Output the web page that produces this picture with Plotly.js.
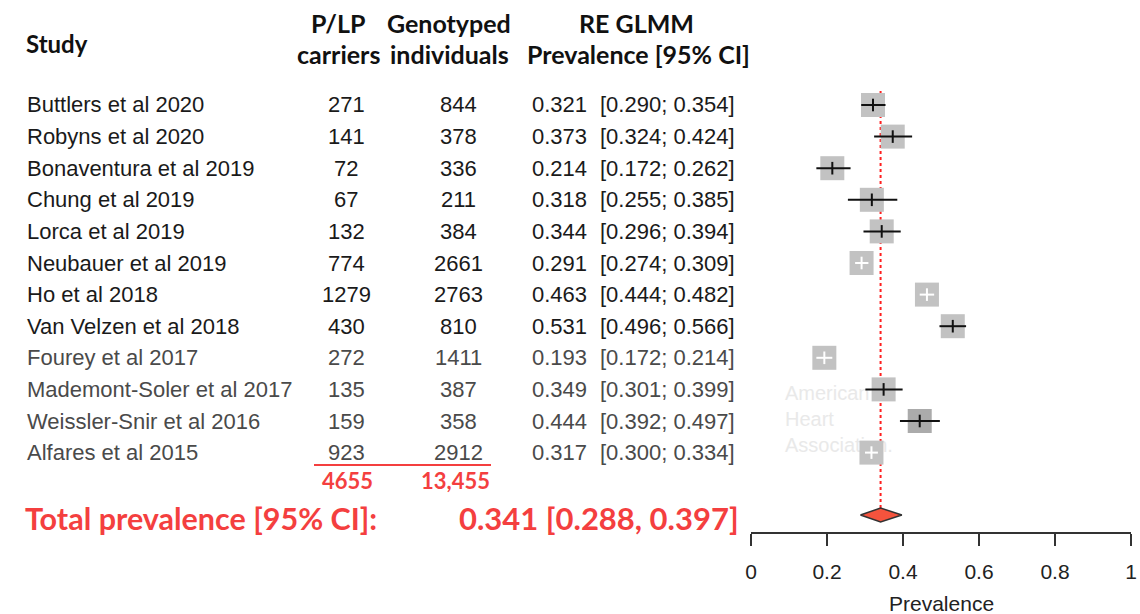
<!DOCTYPE html>
<html>
<head>
<meta charset="utf-8">
<script src="https://cdn.plot.ly/plotly-3.0.1.min.js"></script>
<style>html,body{margin:0;padding:0;background:#fff;}#chart{width:1140px;height:614px;}</style>
</head>
<body>
<div id="chart"></div>
<script>
// ---- data ----
const studies = ["Buttlers et al 2020","Robyns et al 2020","Bonaventura et al 2019","Chung et al 2019",
  "Lorca et al 2019","Neubauer et al 2019","Ho et al 2018","Van Velzen et al 2018","Fourey et al 2017",
  "Mademont-Soler et al 2017","Weissler-Snir et al 2016","Alfares et al 2015"];
const carriers = [271,141,72,67,132,774,1279,430,272,135,159,923];
const genotyped = [844,378,336,211,384,2661,2763,810,1411,387,358,2912];
const prevalence = [0.321,0.373,0.214,0.318,0.344,0.291,0.463,0.531,0.193,0.349,0.444,0.317];
const ciLow = [0.290,0.324,0.172,0.255,0.296,0.274,0.444,0.496,0.172,0.301,0.392,0.300];
const ciHigh = [0.354,0.424,0.262,0.385,0.394,0.309,0.482,0.566,0.214,0.399,0.497,0.334];
const totalCarriers = "4655";
const totalGenotyped = "13,455";
const pooledEst = 0.341, pooledLow = 0.288, pooledHigh = 0.397;
const xTickVals = [0,0.2,0.4,0.6,0.8,1];
const xTickText = ["0","0.2","0.4","0.6","0.8","1"];

// ---- layout constants ----
const W = 1140, H = 614;
const ROW0 = 105, STEP = 31.6;          // pixel centre of first row, row spacing
const AX_L = 751, AX_R = 1131, AX_Y = 532;
const BOX = 24;                          // square size in px
const boxHalfUnits = (BOX/2) / (AX_R-AX_L);
const RED = "#f43f3f";
const px2row = p => (p - ROW0) / STEP;
const py = p => 1 - p / H;
const pxX = p => p / W;
const idx = studies.map((_, i) => i);
const rowColor = i => i >= 8 ? "#4a4a4a" : "#1a1a1a";
const pooledRow = px2row(515);

const inside = idx.filter(i => (prevalence[i]-ciLow[i]) < boxHalfUnits && (ciHigh[i]-prevalence[i]) < boxHalfUnits);
const outside = idx.filter(i => !inside.includes(i));

function ciTrace(sel, color){
  return {
    type:"scatter", mode:"markers", hoverinfo:"skip", showlegend:false,
    x: sel.map(i=>prevalence[i]), y: sel.map(i=>i),
    marker:{symbol:"line-ns-open", size:9, color:color, line:{color:color, width:2}},
    error_x:{type:"data", symmetric:false, array: sel.map(i=>ciHigh[i]-prevalence[i]),
      arrayminus: sel.map(i=>prevalence[i]-ciLow[i]), color:color, thickness:2, width:0}
  };
}

const traces = [
  { type:"scatter", mode:"text", hoverinfo:"skip", showlegend:false,
    x:[(785-AX_L)/(AX_R-AX_L)], y:[px2row(421)], text:["American<br>Heart<br>Association."],
    textposition:"middle right", textfont:{family:"Liberation Sans, Arial, sans-serif", size:20, color:"#e9e9e9"} },
  { type:"scatter", mode:"lines", hoverinfo:"skip", showlegend:false,
    x:[pooledEst,pooledEst], y:[px2row(91), px2row(508)],
    line:{color:"#ff2020", width:2, dash:"3px,3px"} },
  { type:"scatter", mode:"markers", hoverinfo:"skip", showlegend:false,
    x: prevalence, y: idx,
    marker:{symbol:"square", size:BOX, color: idx.map(i => i===10 ? "#ababab" : "#c2c2c2"), line:{width:0}} },
  ciTrace(outside, "#111111"),
  ciTrace(inside, "#ffffff"),
  { type:"scatter", mode:"lines", fill:"toself", hoverinfo:"skip", showlegend:false,
    x:[pooledLow, pooledEst, pooledHigh, pooledEst, pooledLow],
    y:[pooledRow, pooledRow-0.22, pooledRow, pooledRow+0.22, pooledRow],
    fillcolor:"#f5533d", line:{color:"#333333", width:1.5} }
];

const F = "Liberation Sans, Arial, sans-serif";
const FC = "Lato, Carlito, Calibri, sans-serif";
const ann = [];
function A(o){ ann.push(Object.assign({showarrow:false, xref:"paper", yref:"paper", yanchor:"middle"}, o)); }

// headers
const HB = {family:FC, size:25, color:"#111"};
A({x:pxX(24), y:py(43), xanchor:"left", text:"<b>Study</b>", font:{family:FC, size:24, color:"#111"}});
A({x:pxX(338), y:py(23), xanchor:"center", text:"<b>P/LP</b>", font:HB});
A({x:pxX(338), y:py(54), xanchor:"center", text:"<b>carriers</b>", font:HB});
A({x:pxX(449), y:py(23), xanchor:"center", text:"<b>Genotyped</b>", font:HB});
A({x:pxX(449), y:py(54), xanchor:"center", text:"<b>individuals</b>", font:HB});
A({x:pxX(636), y:py(23), xanchor:"center", text:"<b>RE GLMM</b>", font:HB});
A({x:pxX(638), y:py(54), xanchor:"center", text:"<b>Prevalence [95% CI]</b>", font:HB});

// rows
idx.forEach(i => {
  const f = {family:F, size:22, color:rowColor(i)};
  const yy = 1 - (ROW0 + STEP*i) / H;
  A({x:pxX(25), y:yy, xanchor:"left", text:studies[i], font:f});
  A({x:pxX(346), y:yy, xanchor:"center", text:String(carriers[i]), font:f});
  A({x:pxX(458), y:yy, xanchor:"center", text:String(genotyped[i]), font:f});
  A({x:pxX(530), y:yy, xanchor:"left", text:prevalence[i].toFixed(3), font:f});
  A({x:pxX(598), y:yy, xanchor:"left", text:"[" + ciLow[i].toFixed(3) + "; " + ciHigh[i].toFixed(3) + "]", font:f});
});

// totals
A({x:pxX(347), y:py(480), xanchor:"center", text:"<b>"+totalCarriers+"</b>", font:{family:FC, size:22, color:RED}});
A({x:pxX(455), y:py(480), xanchor:"center", text:"<b>"+totalGenotyped+"</b>", font:{family:FC, size:22, color:RED}});
A({x:pxX(23), y:py(518), xanchor:"left", text:"<b>Total prevalence [95% CI]:</b>", font:{family:FC, size:30.5, color:RED}});
A({x:pxX(741), y:py(518), xanchor:"right",
   text:"<b>" + pooledEst.toFixed(3) + " [" + pooledLow.toFixed(3) + ", " + pooledHigh.toFixed(3) + "]</b>",
   font:{family:FC, size:31, color:RED}});
// x axis title
A({x:pxX((AX_L+AX_R)/2), y:py(603), xanchor:"center", text:"Prevalence", font:{family:F, size:21, color:"#222"}});

const layout = {
  width:W, height:H, margin:{l:0,r:0,t:0,b:0}, paper_bgcolor:"#fff", plot_bgcolor:"rgba(0,0,0,0)",
  showlegend:false,
  xaxis:{domain:[AX_L/W, AX_R/W], range:[0,1], autorange:false, anchor:"free", position:1-AX_Y/H,
    showline:true, linecolor:"#333", linewidth:1.6, ticks:"outside", ticklen:12, tickwidth:1.6, tickcolor:"#333",
    tickvals:xTickVals, ticktext:xTickText, tickfont:{family:F, size:21, color:"#222"},
    ticklabelstandoff:8, showgrid:false, zeroline:false, fixedrange:true},
  yaxis:{domain:[0,1], range:[px2row(H), px2row(0)], autorange:false, visible:false, fixedrange:true},
  shapes:[{type:"line", xref:"paper", yref:"paper", x0:pxX(314), x1:pxX(491), y0:py(465), y1:py(465),
    line:{color:RED, width:2.2}}],
  annotations: ann
};

Plotly.newPlot("chart", traces, layout, {staticPlot:true, displayModeBar:false});
</script>
</body>
</html>
